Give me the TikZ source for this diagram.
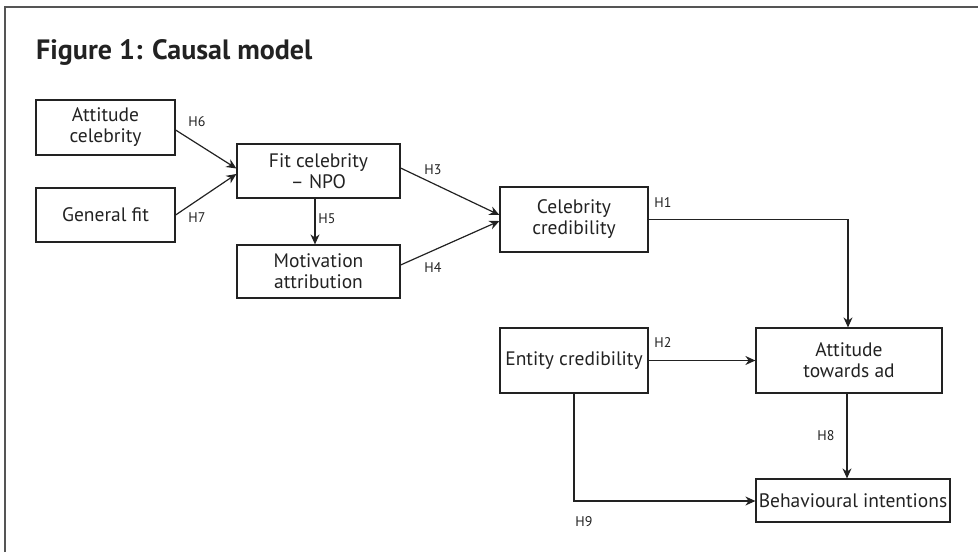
\documentclass[tikz,border=0pt]{standalone}
\usepackage{fontspec}
\setmainfont{PT Sans}
\usetikzlibrary{arrows.meta}
\definecolor{ink}{HTML}{222222}
\definecolor{frame}{HTML}{555555}
\begin{document}
\begin{tikzpicture}[x=1pt,y=-1pt,
  box/.style={draw=ink,line width=1.2pt,inner sep=0pt,text=ink,font=\fontsize{19.5}{21}\selectfont,align=center},
  lab/.style={text=ink,font=\fontsize{14}{14}\selectfont,inner sep=0pt},
  arr/.style={draw=ink,line width=1.2pt,-{Stealth[length=10pt,width=9pt]}}]
\useasboundingbox (0,0) rectangle (978,552);
\draw[frame,line width=1.6pt] (5,552) -- (5,7) -- (978,7);
\node[anchor=base west,text=ink,font=\bfseries\fontsize{28}{28}\selectfont,inner sep=0pt] (title) at (36,59) {Figure 1: Causal model};
\node[box,minimum width=139pt,minimum height=55pt] (ac) at (105.5,127.5) {Attitude\\celebrity};
\node[box,minimum width=139pt,minimum height=54pt] (gf) at (105.5,215) {General fit};
\node[box,minimum width=163pt,minimum height=54pt] (fit) at (318.5,171) {Fit celebrity\\– NPO};
\node[box,minimum width=163pt,minimum height=53pt] (mot) at (318.5,271.5) {Motivation\\attribution};
\node[box,minimum width=148pt,minimum height=65pt] (cc) at (574,219.5) {Celebrity\\credibility};
\node[box,minimum width=148pt,minimum height=65pt] (ec) at (574,360.5) {Entity credibility};
\node[box,minimum width=186pt,minimum height=65pt] (ata) at (849,360.5) {Attitude\\towards ad};
\node[box,minimum width=194pt,minimum height=43pt] (bi) at (853,500.5) {Behavioural intentions};
\coordinate (c1) at (848,219.5);
\coordinate (c9) at (574,501);
\draw[arr] (ac.east |- 0,130) -- (fit.west |- 0,168.5);
\draw[arr] (gf.east |- 0,215) -- (fit.west |- 0,174);
\draw[arr] (fit.south -| 315,0) -- (mot.north -| 315,0);
\draw[arr] (fit.east |- 0,168) -- (cc.west |- 0,215);
\draw[arr] (mot.east |- 0,265) -- (cc.west |- 0,221);
\draw[arr] (cc.east) -- (c1) -- (c1 |- ata.north);
\draw[arr] (ec.east) -- (ata.west);
\draw[arr] (ata.south -| 847,0) -- (bi.north -| 847,0);
\draw[arr] (ec.south) -- (c9) -- (c9 -| bi.west);
\node[lab] (h6) at (197,122) {H6};
\node[lab] (h7) at (197,218) {H7};
\node[lab] (h5) at (327,219) {H5};
\node[lab] (h3) at (433,170) {H3};
\node[lab] (h4) at (433,268) {H4};
\node[lab] (h1) at (663,203) {H1};
\node[lab] (h2) at (663,343) {H2};
\node[lab] (h8) at (826,436) {H8};
\node[lab] (h9) at (584,522) {H9};
\end{tikzpicture}
\end{document}
